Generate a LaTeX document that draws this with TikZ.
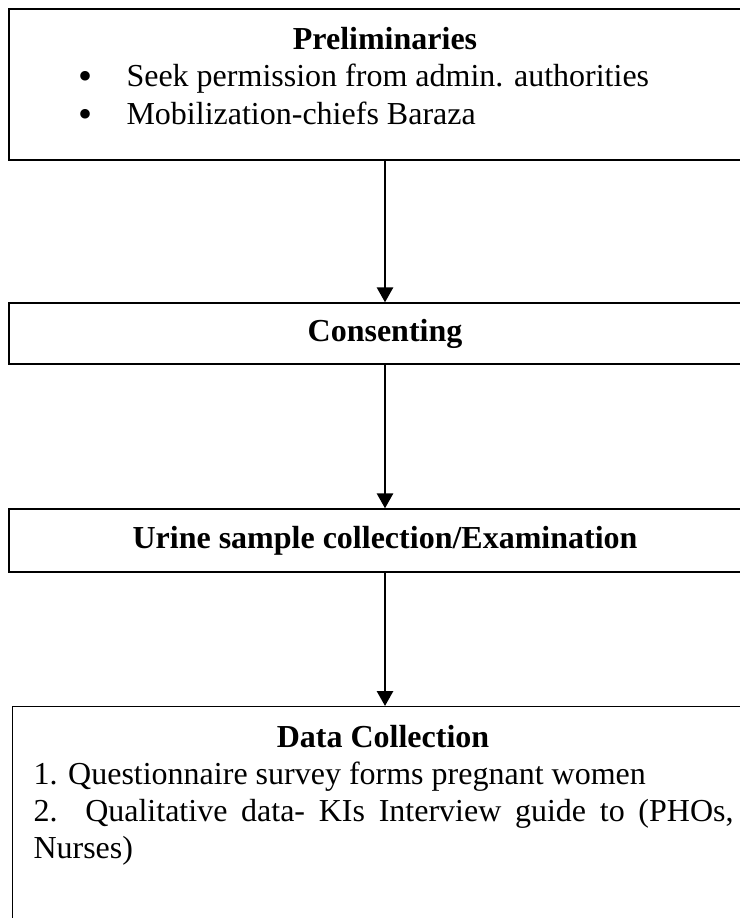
\documentclass[tikz,border=0pt]{standalone}
\usepackage{fontspec}
\setmainfont{Liberation Serif}
\usetikzlibrary{arrows.meta}
\newcommand{\bigbullet}{\raisebox{-0.9pt}{\fontsize{15pt}{15pt}\selectfont\textbullet}}
\tikzset{
  txt/.style={
    font=\fontsize{12pt}{13.8pt}\selectfont,
    inner sep=0pt
  },
  title/.style={
    txt,
    font=\fontsize{12pt}{13.8pt}\selectfont\bfseries
  },
  stage/.style={
    draw,
    line width=0.5pt,
    inner sep=0pt,
    minimum width=752*0.375pt
  },
  flow/.style={
    line width=1pt,
    -{Triangle[length=5.6pt,width=6pt]}
  },
  every picture/.style={
    x=0.375pt,
    y=-0.375pt
  }
}

\begin{document}
\begin{tikzpicture}
  \useasboundingbox (0,0) rectangle (739,918);
  % boxes
  \node[stage, minimum height=151*0.375pt] (prelim) at (385,84.5) {};
  \node[stage, title, minimum height=61*0.375pt] (consent) at (385,333.5) {Consenting};
  \node[stage, title, minimum height=63*0.375pt] (urine) at (385,540.5) {Urine sample collection/Examination};
  \node[stage, anchor=north, minimum width=744.6*0.375pt, minimum height=300*0.375pt] (datacol) at (385,706) {};
  % preliminaries
  \node[title, anchor=base] (pretitle) at (385,50) {Preliminaries};
  \node[txt, anchor=base west] (pre1) at (78,87) {\bigbullet\hspace{12.75pt}Seek permission from admin. authorities};
  \node[txt, anchor=base west] (pre2) at (78,125) {\bigbullet\hspace{12.75pt}Mobilization-chiefs Baraza};
  % data collection
  \node[title, anchor=base] (dctitle) at (383,747) {Data Collection};
  \node[txt, anchor=base west] (dc1) at (33,784) {1. Questionnaire survey forms pregnant women};
  \node[txt, anchor=base west] (dc2) at (33,821) {\makebox[262.5pt][s]{2. Qualitative data- KIs Interview guide to (PHOs,}};
  \node[txt, anchor=base west] (dc3) at (33,858) {Nurses)};
  % arrows
  \draw[flow] (prelim.south) -- (consent.north);
  \draw[flow] (consent.south) -- (urine.north);
  \draw[flow] (urine.south) -- (datacol.north);
\end{tikzpicture}
\end{document}
